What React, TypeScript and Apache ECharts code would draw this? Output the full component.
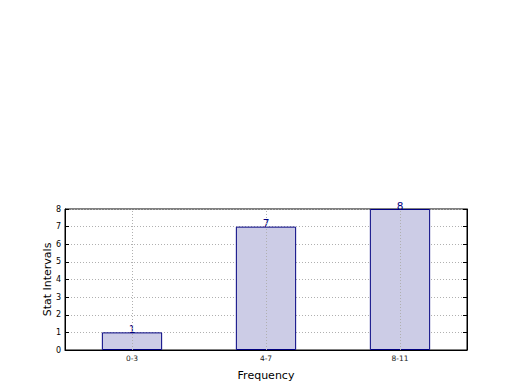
import React, { useEffect, useRef } from "react";
import * as echarts from "echarts";

const categories = ["0-3", "4-7", "8-11"];
const values = [1, 7, 8];
const yTicks = { min: 0, max: 8, interval: 1 };

export default function App() {
  const ref = useRef<HTMLDivElement>(null);
  useEffect(() => {
    if (!ref.current) return;
    const chart = echarts.init(ref.current, null, { renderer: "svg" });
    const font = "DejaVu Sans";
    const gridLine = { color: "#b0b0b0", type: [1, 2] as number[], width: 1 };
    chart.setOption({
      animation: false,
      backgroundColor: "#ffffff",
      textStyle: { fontFamily: font },
      grid: {
        left: 57,
        top: 201,
        width: 402,
        height: 141,
        show: true,
        borderColor: "#000000",
        borderWidth: 1,
        containLabel: false,
      },
      xAxis: {
        type: "category",
        data: categories,
        boundaryGap: true,
        name: "Frequency",
        nameLocation: "middle",
        nameGap: 20,
        nameMoveOverlap: false,
        nameTextStyle: { fontSize: 11, color: "#000", fontFamily: font },
        axisLine: { lineStyle: { color: "#000" } },
        axisTick: { show: true, inside: true, alignWithLabel: true, length: 4, lineStyle: { color: "#000" } },
        axisLabel: { fontSize: 7.5, color: "#222", margin: 4, fontFamily: font },
        splitLine: { show: false },
      },
      yAxis: [
        {
          type: "value",
          min: yTicks.min,
          max: yTicks.max,
          interval: yTicks.interval,
          name: "Stat Intervals",
          nameLocation: "middle",
          nameGap: 12,
          nameMoveOverlap: false,
          nameTextStyle: { fontSize: 11, color: "#000", fontFamily: font },
          axisLine: { show: true, lineStyle: { color: "#000" } },
          axisTick: { show: true, inside: true, length: 4, lineStyle: { color: "#000" } },
          axisLabel: { fontSize: 8, color: "#000", margin: 4, fontFamily: font },
          splitLine: { show: true, lineStyle: gridLine },
        },
        {
          type: "value",
          position: "right",
          min: yTicks.min,
          max: yTicks.max,
          interval: yTicks.interval,
          axisLine: { show: true, lineStyle: { color: "#000" } },
          axisTick: { show: true, inside: true, length: 4, lineStyle: { color: "#000" } },
          axisLabel: { show: false },
          splitLine: { show: false },
        },
      ],
      series: [
        {
          type: "bar",
          data: values,
          barWidth: "45%",
          z: 2,
          itemStyle: { color: "#cccce6", borderColor: "#000080", borderWidth: 1 },
          label: {
            show: true,
            position: "top",
            distance: -2,
            fontSize: 10.5,
            color: "#000080",
            fontFamily: font,
          },
          markLine: {
            silent: true,
            symbol: "none",
            label: { show: false },
            z: 3,
            lineStyle: gridLine,
            data: categories.map((c) => ({ xAxis: c })),
          },
        },
      ],
    });
    return () => chart.dispose();
  }, []);
  return <div ref={ref} style={{ width: 504, height: 374 }} />;
}
